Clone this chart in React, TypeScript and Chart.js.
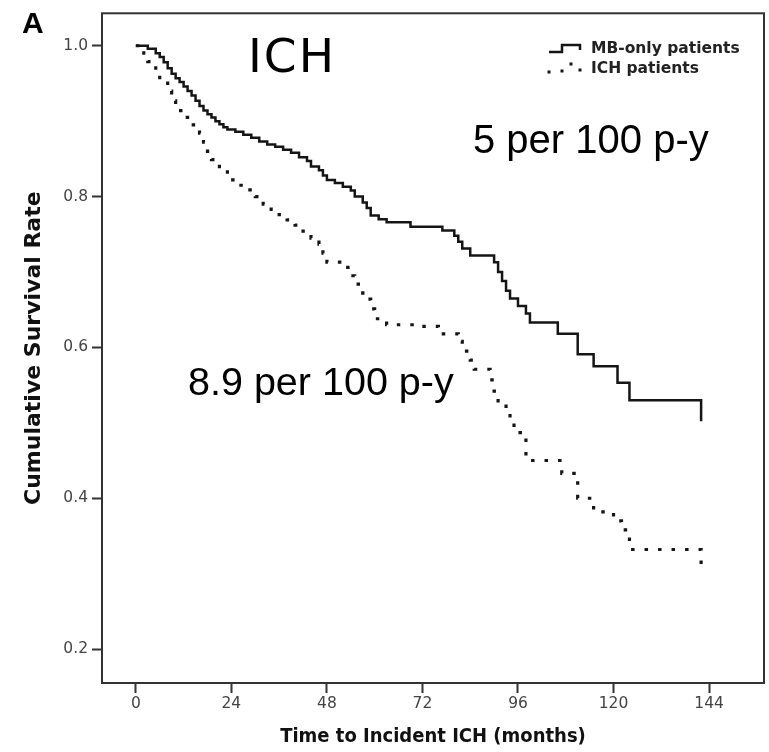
import React, { useEffect, useRef } from 'react';
import { Chart, registerables } from 'chart.js';

Chart.register(...registerables);

// Kaplan-Meier step data (time in months, cumulative survival)
const mbTimes = [0, 3, 5, 6, 7, 8, 9, 10, 11, 12, 13, 14, 15, 16, 17, 18, 19, 20, 21, 22, 23, 25, 27, 29, 31, 33, 35, 37, 39, 41, 43, 44, 46, 47, 48, 50, 52, 54, 55, 57, 58, 59, 61, 63, 69, 77, 80, 81, 82, 84, 90, 91, 92, 93, 94, 96, 98, 99, 106, 111, 115, 121, 124, 142];
const mbSurvival = [1.0, 0.996, 0.99, 0.985, 0.978, 0.97, 0.963, 0.957, 0.952, 0.946, 0.94, 0.934, 0.927, 0.92, 0.914, 0.909, 0.905, 0.9, 0.896, 0.892, 0.889, 0.886, 0.882, 0.878, 0.873, 0.869, 0.866, 0.862, 0.858, 0.852, 0.847, 0.84, 0.835, 0.828, 0.822, 0.818, 0.813, 0.808, 0.8, 0.792, 0.785, 0.775, 0.77, 0.766, 0.76, 0.755, 0.748, 0.74, 0.731, 0.722, 0.713, 0.7, 0.688, 0.675, 0.665, 0.655, 0.645, 0.633, 0.618, 0.591, 0.575, 0.553, 0.53, 0.502];

const ichTimes = [0, 2, 3, 5, 6, 8, 9, 10, 12, 14, 16, 17, 18, 19, 21, 23, 25, 28, 30, 32, 34, 36, 38, 40, 42, 44, 46, 47, 48, 52, 54, 55, 57, 58, 59, 60, 63, 70, 76, 81, 82, 84, 85, 89, 90, 91, 93, 94, 95, 97, 98, 107, 111, 115, 120, 122, 124, 142];
const ichSurvival = [1.0, 0.99, 0.979, 0.965, 0.953, 0.94, 0.927, 0.914, 0.905, 0.895, 0.884, 0.872, 0.86, 0.849, 0.836, 0.822, 0.815, 0.809, 0.8, 0.79, 0.783, 0.776, 0.769, 0.762, 0.754, 0.745, 0.737, 0.725, 0.713, 0.706, 0.695, 0.684, 0.672, 0.664, 0.651, 0.638, 0.63, 0.628, 0.618, 0.608, 0.595, 0.583, 0.571, 0.557, 0.542, 0.526, 0.516, 0.5, 0.487, 0.48, 0.45, 0.433, 0.4, 0.382, 0.37, 0.358, 0.332, 0.309];

const xTickValues = [0, 24, 48, 72, 96, 120, 144];
const yTickValues = [0.2, 0.4, 0.6, 0.8, 1.0];

const seriesNames = ['MB-only patients', 'ICH patients'];
const panelLabel = 'A';
const outcomeLabel = 'ICH';
const mbRateLabel = '5 per 100 p-y';
const ichRateLabel = '8.9 per 100 p-y';
const xTitle = 'Time to Incident ICH (months)';
const yTitle = 'Cumulative Survival Rate';

const INK = '#151515';
const AXIS = '#333333';

const framePlugin = {
  id: 'frameAndNotes',
  afterDraw(chart: any) {
    const { ctx, chartArea } = chart;
    ctx.save();
    // plot frame
    ctx.strokeStyle = AXIS;
    ctx.lineWidth = 2;
    ctx.strokeRect(chartArea.left, chartArea.top, chartArea.right - chartArea.left, chartArea.bottom - chartArea.top);

    // panel label
    ctx.fillStyle = '#000';
    ctx.textBaseline = 'alphabetic';
    ctx.textAlign = 'left';
    ctx.font = 'bold 30px "Liberation Sans", Arial, sans-serif';
    ctx.fillText(panelLabel, 22, 33);

    // outcome label
    ctx.font = '47px "DejaVu Sans", Verdana, sans-serif';
    try { (ctx as any).letterSpacing = '2px'; } catch (e) { /* ignore */ }
    ctx.fillText(outcomeLabel, 248, 72);
    try { (ctx as any).letterSpacing = '0px'; } catch (e) { /* ignore */ }

    // incidence rates
    ctx.font = '40px "Liberation Sans", Arial, sans-serif';
    ctx.fillText(mbRateLabel, 473, 153);
    ctx.font = '39.5px "Liberation Sans", Arial, sans-serif';
    ctx.fillText(ichRateLabel, 188, 395);

    // legend
    const lx = 549;
    ctx.strokeStyle = INK;
    ctx.lineWidth = 2.5;
    ctx.setLineDash([]);
    ctx.beginPath();
    ctx.moveTo(lx, 52);
    ctx.lineTo(lx + 13, 52);
    ctx.lineTo(lx + 13, 45);
    ctx.lineTo(lx + 31, 45);
    ctx.lineTo(lx + 31, 50);
    ctx.stroke();
    ctx.fillStyle = INK;
    const dots = [[lx, 72], [lx + 13, 71], [lx + 22, 64], [lx + 31, 70]];
    dots.forEach(([dx, dy]) => ctx.fillRect(dx - 1.5, dy - 1.5, 3, 3));
    ctx.fillStyle = '#222';
    ctx.font = 'bold 15.5px "DejaVu Sans", Verdana, sans-serif';
    ctx.textBaseline = 'middle';
    ctx.fillText(seriesNames[0], 591, 49);
    ctx.fillText(seriesNames[1], 591, 69);
    ctx.restore();
  },
};

export default function App() {
  const canvasRef = useRef<HTMLCanvasElement | null>(null);

  useEffect(() => {
    const canvas = canvasRef.current;
    if (!canvas) return;
    const chart = new Chart(canvas, {
      type: 'line',
      data: {
        datasets: [
          {
            label: seriesNames[0],
            data: mbTimes.map((t, i) => ({ x: t, y: mbSurvival[i] })),
            stepped: 'before',
            borderColor: INK,
            borderWidth: 2.5,
            pointRadius: 0,
            fill: false,
          },
          {
            label: seriesNames[1],
            data: ichTimes.map((t, i) => ({ x: t, y: ichSurvival[i] })),
            stepped: 'before',
            borderColor: INK,
            borderWidth: 3.2,
            borderDash: [3.5, 10],
            borderCapStyle: 'butt',
            pointRadius: 0,
            fill: false,
          },
        ],
      },
      options: {
        responsive: false,
        animation: false,
        layout: { padding: { top: 10, right: 5, left: 0, bottom: 0 } },
        plugins: { legend: { display: false }, tooltip: { enabled: false } },
        scales: {
          x: {
            type: 'linear',
            min: -8.5,
            max: 157.8,
            afterBuildTicks: (scale: any) => {
              scale.ticks = xTickValues.map((v) => ({ value: v }));
            },
            afterFit: (scale: any) => {
              scale.height = 69;
            },
            ticks: {
              color: '#444',
              font: { family: '"DejaVu Sans", Verdana, sans-serif', size: 15.5 },
              padding: 2,
              maxRotation: 0,
              autoSkip: false,
              callback: (v: any) => String(v),
            },
            grid: { drawOnChartArea: false, drawTicks: true, tickLength: 10, tickWidth: 2, tickColor: AXIS },
            border: { display: false },
            title: {
              display: true,
              text: xTitle,
              color: '#111',
              font: { family: '"DejaVu Sans Condensed", "DejaVu Sans", Verdana, sans-serif', size: 20, weight: 'bold' },
              padding: { top: 0, bottom: 3 },
            },
          },
          y: {
            type: 'linear',
            min: 0.155,
            max: 1.043,
            afterBuildTicks: (scale: any) => {
              scale.ticks = yTickValues.map((v) => ({ value: v }));
            },
            afterFit: (scale: any) => {
              scale.width = 102;
            },
            ticks: {
              color: '#444',
              font: { family: '"DejaVu Sans", Verdana, sans-serif', size: 15.5 },
              padding: 4,
              callback: (v: any) => Number(v).toFixed(1),
            },
            grid: { drawOnChartArea: false, drawTicks: true, tickLength: 10, tickWidth: 2, tickColor: AXIS },
            border: { display: false },
            title: {
              display: true,
              text: yTitle,
              color: '#111',
              font: { family: '"DejaVu Sans", Verdana, sans-serif', size: 22, weight: 'bold' },
              padding: { top: 21, bottom: 0 },
            },
          },
        },
      },
      plugins: [framePlugin],
    });
    return () => chart.destroy();
  }, []);

  return (
    <div style={{ position: 'fixed', left: 0, top: 0, width: 769, height: 752, background: '#fff' }}>
      <canvas ref={canvasRef} width={769} height={752} style={{ display: 'block' }} />
    </div>
  );
}
